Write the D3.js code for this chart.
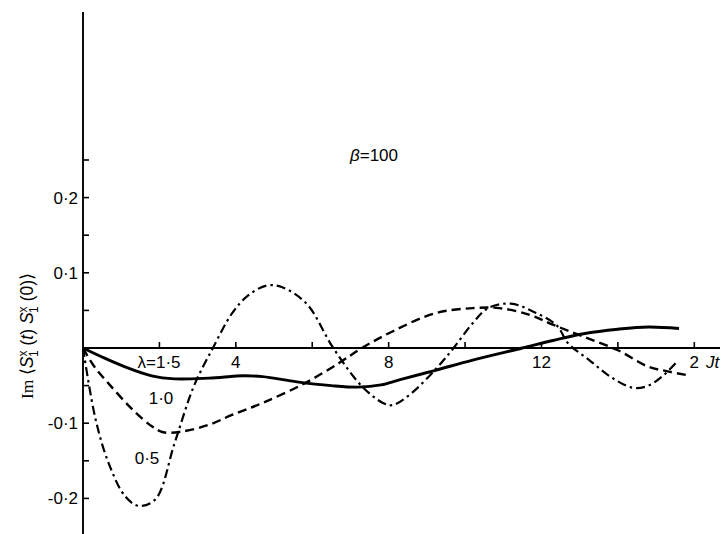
<!DOCTYPE html>
<html>
<head>
<meta charset="utf-8">
<script src="https://cdn.jsdelivr.net/npm/d3@7"></script>
<style>
  body { margin: 0; background: #fff; }
  svg { display: block; }
  text { font-family: "Liberation Sans", Arial, sans-serif; fill: #000; }
</style>
</head>
<body>
<svg class="plot" width="725" height="534"></svg>
<script>
// curve for lambda = 1.5 (solid)
const tSolid = [0, 0.5, 1.1, 1.8, 2.4, 3.3, 4.2, 4.7, 5.6, 6.5, 7.2, 7.8, 8.3, 9.2, 10.2, 11.5, 12.3, 13.1, 14.0, 14.8, 15.6]
const vSolid = [0, -0.012, -0.025, -0.037, -0.041, -0.040, -0.037, -0.038, -0.045, -0.050, -0.052, -0.049, -0.042, -0.030, -0.016, 0, 0.010, 0.019, 0.025, 0.028, 0.026]

// curve for lambda = 1.0 (dashed)
const tDash = [0, 0.3, 0.7, 1.3, 1.8, 2.1, 2.6, 3.3, 3.9, 4.7, 5.8, 6.7, 7.3, 8.1, 9.2, 10.2, 10.9, 11.7, 12.3, 13.1, 14.0, 14.8, 15.3, 15.8]
const vDash = [0, -0.025, -0.049, -0.082, -0.104, -0.112, -0.111, -0.102, -0.089, -0.073, -0.047, -0.020, 0, 0.022, 0.046, 0.053, 0.053, 0.044, 0.031, 0.015, -0.003, -0.025, -0.031, -0.036]

// curve for lambda = 0.5 (dash-dot)
const tDot = [0, 0.33, 0.67, 1.1, 1.46, 1.9, 2.4, 2.9, 3.4, 3.9, 4.3, 4.8, 5.2, 5.85, 6.55, 7.3, 7.85, 8.1, 8.6, 9.25, 9.7, 10.2, 10.6, 11.2, 11.8, 12.4, 12.7, 13.25, 13.8, 14.4, 14.8, 15.2, 15.55]
const vDot = [0, -0.095, -0.153, -0.197, -0.210, -0.201, -0.126, -0.051, 0, 0.046, 0.069, 0.083, 0.081, 0.059, 0, -0.051, -0.073, -0.076, -0.060, -0.027, 0, 0.033, 0.053, 0.059, 0.048, 0.030, 0.006, -0.016, -0.038, -0.053, -0.050, -0.036, -0.018]

const yTicks = [-0.2, -0.15, -0.1, -0.05, 0.05, 0.1, 0.15, 0.2, 0.25]
const yTickLabels = { "-0.2": "-0·2", "-0.1": "-0·1", "0.1": "0·1", "0.2": "0·2" }
const xTicks = [2, 4, 6, 8, 10, 12, 14, 16]
const xTickLabels = { 4: "4", 8: "8", 12: "12", 16: "2" }

const svg = d3.select(".plot");

const x = d3.scaleLinear().domain([0, 16]).range([83, 694.3]);
const y = d3.scaleLinear().domain([0, 0.1]).range([348, 272.8]);

// y axis
svg.append("line")
  .attr("x1", x(0)).attr("x2", x(0))
  .attr("y1", 12).attr("y2", 534)
  .attr("stroke", "#000").attr("stroke-width", 1.9);

svg.selectAll(".ytick")
  .data(yTicks)
  .enter().append("line")
  .attr("x1", x(0)).attr("x2", x(0) + 6)
  .attr("y1", d => y(d)).attr("y2", d => y(d))
  .attr("stroke", "#000").attr("stroke-width", 1.6);

svg.selectAll(".ylab")
  .data(yTicks.filter(d => yTickLabels[d]))
  .enter().append("text")
  .attr("x", x(0) - 5)
  .attr("y", d => y(d) + 6)
  .attr("text-anchor", "end")
  .style("font-size", "17px")
  .text(d => yTickLabels[d]);

// x axis
svg.append("line")
  .attr("x1", x(0)).attr("x2", 720)
  .attr("y1", y(0)).attr("y2", y(0))
  .attr("stroke", "#000").attr("stroke-width", 1.9);

svg.selectAll(".xtick")
  .data(xTicks)
  .enter().append("line")
  .attr("x1", d => x(d)).attr("x2", d => x(d))
  .attr("y1", y(0)).attr("y2", y(0) - 6)
  .attr("stroke", "#000").attr("stroke-width", 1.6);

svg.selectAll(".xlab")
  .data(xTicks.filter(d => xTickLabels[d]))
  .enter().append("text")
  .attr("x", d => x(d))
  .attr("y", y(0) + 20)
  .attr("text-anchor", "middle")
  .style("font-size", "17px")
  .text(d => xTickLabels[d]);

svg.append("text")
  .attr("x", 706)
  .attr("y", y(0) + 20)
  .style("font-size", "17px")
  .style("font-style", "italic")
  .text("Jt");

// curves
const line = d3.line()
  .x(d => x(d[0]))
  .y(d => y(d[1]))
  .curve(d3.curveCatmullRom.alpha(0.5));

const series = [
  { t: tSolid, v: vSolid, width: 2.9, dash: null },
  { t: tDash, v: vDash, width: 2.4, dash: "9,5" },
  { t: tDot, v: vDot, width: 2.2, dash: "9,4,2.5,4" }
];

series.forEach(s => {
  svg.append("path")
    .datum(s.t.map((t, i) => [t, s.v[i]]))
    .attr("fill", "none")
    .attr("stroke", "#000")
    .attr("stroke-width", s.width)
    .attr("stroke-dasharray", s.dash)
    .attr("d", line);
});

// curve labels
svg.append("text")
  .attr("x", 159).attr("y", y(0) + 20)
  .attr("text-anchor", "middle")
  .style("font-size", "17px")
  .text("λ=1·5");

svg.append("text")
  .attr("x", 161).attr("y", 404)
  .attr("text-anchor", "middle")
  .style("font-size", "17px")
  .text("1·0");

svg.append("text")
  .attr("x", 147).attr("y", 464)
  .attr("text-anchor", "middle")
  .style("font-size", "17px")
  .text("0·5");

svg.append("text")
  .attr("x", 350).attr("y", 161)
  .style("font-size", "17px")
  .html('<tspan font-style="italic">β</tspan>=100');

// y axis title
const yTitle = svg.append("text")
  .attr("transform", "translate(33,336) rotate(-90)")
  .attr("text-anchor", "middle")
  .style("font-size", "17.5px");
yTitle.append("tspan").style("font-family", "'Liberation Serif', serif").text("Im ");
yTitle.append("tspan").text("⟨");
yTitle.append("tspan").style("font-style", "italic").text("S");
yTitle.append("tspan").attr("dy", -6).style("font-size", "12px").text("x");
yTitle.append("tspan").attr("dx", -6.5).attr("dy", 11).style("font-size", "12px").text("1");
yTitle.append("tspan").attr("dy", -5).text(" (");
yTitle.append("tspan").style("font-style", "italic").text("t");
yTitle.append("tspan").text(") ");
yTitle.append("tspan").style("font-style", "italic").text("S");
yTitle.append("tspan").attr("dy", -6).style("font-size", "12px").text("x");
yTitle.append("tspan").attr("dx", -6.5).attr("dy", 11).style("font-size", "12px").text("1");
yTitle.append("tspan").attr("dy", -5).text(" (0)⟩");
</script>
</body>
</html>
